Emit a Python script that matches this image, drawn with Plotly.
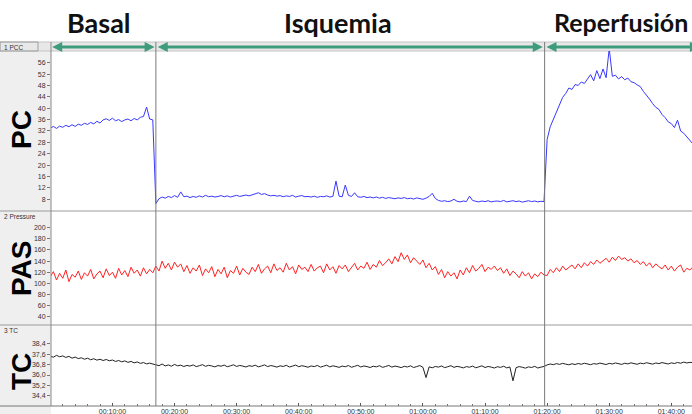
import numpy as np
import plotly.graph_objects as go

# ---------------- data (read from the recording) ----------------
STEP_MIN = 0.5          # sampling step of the hand-read series (minutes)
BASAL_END = 17.0        # end of basal period (min)
REPERF_START = 79.6     # start of reperfusion (min)

PHASES = ["Basal", "Isquemia", "Reperfusión"]
CHANNEL_LABELS = ["PC", "PAS", "TC"]
CHANNEL_NAMES = ["1 PCC", "2 Pressure", "3 TC"]

# PC (blue) — basal 0..16.5, ischemia 17..79.5, reperfusion 80..103.5
pc_basal = [33.0, 33.6, 32.9, 33.7, 33.3, 34.0, 33.5, 34.2, 33.6, 34.4,
            34.0, 34.7, 34.3, 35.0, 34.5, 35.4, 34.8, 35.9, 36.3, 35.7,
            36.5, 35.6, 36.0, 35.3, 35.9, 36.2, 35.6, 36.4, 35.9, 36.8,
            37.1, 40.4, 36.2, 35.9]
pc_isq = [6.5, 8.2, 8.8, 8.4, 9.0, 8.6, 9.3, 8.7, 10.6, 8.9,
          9.1, 8.6, 9.0, 8.7, 9.2, 8.8, 9.4, 8.9, 9.1, 8.8,
          9.0, 9.3, 8.9, 9.2, 8.8, 9.1, 9.4, 9.0, 9.3, 9.5,
          9.2, 9.6, 9.8, 10.3, 9.7, 10.0, 9.5, 9.2, 9.4, 9.1,
          9.3, 8.9, 9.2, 9.0, 9.4, 8.8, 9.1, 9.3, 8.9, 9.0,
          8.8, 9.1, 8.7, 9.0, 8.9, 9.2, 8.8, 9.0, 14.4, 9.1,
          8.9, 13.0, 9.4, 9.0, 10.3, 8.9, 8.7, 9.0, 8.6, 8.8,
          8.5, 8.8, 8.4, 8.7, 8.3, 8.6, 8.4, 8.2, 8.5, 8.3,
          8.6, 8.2, 8.4, 8.1, 8.5, 8.3, 8.0, 8.4, 9.0, 10.1,
          8.3, 7.6, 7.3, 7.5, 7.2, 7.4, 8.0, 7.3, 7.1, 7.4,
          7.2, 9.1, 7.6, 7.3, 7.1, 7.4, 7.2, 7.5, 7.1, 7.3,
          7.4, 7.2, 7.6, 7.1, 7.3, 7.5, 7.2, 7.4, 7.0, 7.3,
          7.5, 7.2, 7.4, 7.1, 7.3, 7.2]
pc_rep = [29.0, 33.5, 36.0, 38.6, 41.0, 43.8, 45.2, 47.1, 46.6, 48.3,
          48.0, 49.2, 48.7, 50.1, 51.8, 49.6, 53.2, 50.4, 53.8, 50.7,
          61.0, 51.2, 51.6, 50.3, 51.1, 50.0, 50.6, 49.3, 49.0, 48.2,
          47.6, 45.9, 44.7, 43.2, 41.6, 40.3, 39.6, 37.8, 36.7, 35.2,
          34.6, 33.2, 35.8, 32.0, 31.2, 29.8, 28.7, 27.4]

# PAS (red)
pas_basal = [112, 121, 106, 118, 109, 124, 103, 116, 111, 122,
             107, 119, 113, 125, 108, 117, 122, 110, 126, 114,
             120, 109, 127, 115, 123, 112, 129, 118, 124, 113,
             128, 117, 125, 119]
pas_isq = [131, 122, 140, 127, 136, 124, 138, 129, 135, 121,
           132, 118, 128, 122, 133, 114, 126, 119, 130, 112,
           125, 117, 129, 110, 123, 118, 131, 115, 127, 120,
           116, 129, 121, 134, 118, 126, 131, 119, 135, 123,
           128, 120, 136, 124, 130, 117, 133, 125, 129, 121,
           134, 122, 128, 131, 119, 135, 124, 130, 118, 132,
           126, 133, 121, 129, 136, 124, 131, 127, 138, 125,
           134, 129, 141, 132, 137, 144, 135, 148, 139, 155,
           143, 151, 137, 146, 140, 134, 142, 128, 136, 124,
           130, 116, 125, 110, 121, 113, 119, 108, 124, 115,
           128, 119, 132, 122, 127, 134, 121, 129, 125, 131,
           123, 128, 118, 126, 114, 122, 117, 110, 121, 113,
           119, 108, 117, 112, 120, 115]
pas_rep = [114, 125, 119, 128, 121, 131, 124, 129, 133, 126,
           135, 128, 137, 131, 139, 134, 142, 136, 140, 145,
           138, 147, 141, 149, 143, 146, 140, 144, 137, 141,
           134, 139, 131, 137, 128, 135, 130, 126, 133, 124,
           131, 122, 129, 133, 120, 127, 124, 130]

# TC (black)
tc_basal = [37.45, 37.38, 37.52, 37.41, 37.48, 37.36, 37.44, 37.30, 37.39, 37.27,
            37.33, 37.22, 37.30, 37.18, 37.26, 37.15, 37.22, 37.12, 37.20, 37.10,
            37.16, 37.05, 37.12, 37.02, 37.09, 36.98, 37.05, 36.94, 37.01, 36.90,
            36.96, 36.86, 36.92, 36.84]
tc_isq = [36.80, 36.72, 36.85, 36.70, 36.78, 36.68, 36.82, 36.71, 36.76, 36.66,
          36.74, 36.69, 36.78, 36.65, 36.72, 36.80, 36.67, 36.75, 36.70, 36.63,
          36.73, 36.68, 36.77, 36.64, 36.71, 36.79, 36.66, 36.74, 36.69, 36.62,
          36.72, 36.67, 36.76, 36.63, 36.70, 36.78, 36.65, 36.73, 36.68, 36.61,
          36.71, 36.66, 36.75, 36.62, 36.69, 36.77, 36.64, 36.72, 36.67, 36.60,
          36.70, 36.65, 36.74, 36.61, 36.68, 36.76, 36.63, 36.71, 36.66, 36.59,
          36.69, 36.64, 36.73, 36.60, 36.67, 36.75, 36.62, 36.70, 36.65, 36.58,
          36.68, 36.63, 36.72, 36.59, 36.66, 36.74, 36.61, 36.69, 36.64, 36.57,
          36.67, 36.62, 36.71, 36.58, 36.65, 36.73, 36.60, 35.80, 36.63, 36.56,
          36.66, 36.61, 36.70, 36.57, 36.64, 36.72, 36.59, 36.67, 36.62, 36.55,
          36.65, 36.60, 36.69, 36.56, 36.63, 36.71, 36.58, 36.66, 36.61, 36.54,
          36.64, 36.59, 36.68, 36.55, 36.62, 35.55, 36.57, 36.65, 36.60, 36.53,
          36.63, 36.58, 36.67, 36.54, 36.61, 36.66]
tc_rep = [36.78, 36.85, 36.80, 36.88, 36.82, 36.90, 36.84, 36.79, 36.87, 36.81,
          36.89, 36.83, 36.91, 36.85, 36.80, 36.88, 36.84, 36.92, 36.86, 36.81,
          36.90, 36.85, 36.93, 36.87, 36.82, 36.91, 36.86, 36.94, 36.88, 36.83,
          36.92, 36.87, 36.95, 36.89, 36.84, 36.93, 36.88, 36.96, 36.90, 36.85,
          36.94, 36.89, 36.97, 36.91, 37.00, 36.93, 36.98, 36.95]

PC_TICKS = [8, 12, 16, 20, 24, 28, 32, 36, 40, 44, 48, 52, 56]
PAS_TICKS = [40, 60, 80, 100, 120, 140, 160, 180, 200]
TC_TICKS = [34.4, 35.2, 36.0, 36.8, 37.6, 38.4]
X_TICKS_MIN = [10, 20, 30, 40, 50, 60, 70, 80, 90, 100]

PC_RANGE = [3.89, 60.1]
PAS_RANGE = [25.1, 230.0]
TC_RANGE = [33.6, 39.87]
T_RANGE = [0.11, 103.33]

# ---------------- assemble ----------------
pc = pc_basal + pc_isq + pc_rep
pas = pas_basal + pas_isq + pas_rep
tc = tc_basal + tc_isq + tc_rep
time = np.arange(len(pc)) * STEP_MIN

def hms(m):
    s = int(round(m * 60))
    return f"{s // 3600:02d}:{(s % 3600) // 60:02d}:{s % 60:02d}"

W, H = 692, 414
ML, MR, MT, MB = 51, 0, 51, 8
PW, PH = W - ML - MR, H - MT - MB

def xp(px):
    return (px - ML) / PW

def yp(py):
    return (H - MB - py) / PH

def tx(t):
    return (t - T_RANGE[0]) / (T_RANGE[1] - T_RANGE[0])

SEP1, SEP2 = 211, 325
D1 = [yp(SEP1), 1.0]
D2 = [yp(SEP2), yp(SEP1)]
D3 = [0.0, yp(SEP2)]

fig = go.Figure()
fig.add_trace(go.Scatter(x=time, y=pc, mode="lines", line=dict(color="#3838ff", width=1),
                         xaxis="x", yaxis="y", hoverinfo="skip", showlegend=False))
fig.add_trace(go.Scatter(x=time, y=pas, mode="lines", line=dict(color="#ff2222", width=1),
                         xaxis="x", yaxis="y2", hoverinfo="skip", showlegend=False))
fig.add_trace(go.Scatter(x=time, y=tc, mode="lines", line=dict(color="#222222", width=1),
                         xaxis="x", yaxis="y3", hoverinfo="skip", showlegend=False))

tickfont = dict(family="Liberation Sans, Arial", size=7, color="#333333")
yax_common = dict(anchor="x", ticks="outside", ticklen=3, tickcolor="#777777",
                  showgrid=False, zeroline=False, showline=False, tickfont=tickfont,
                  fixedrange=True)

shapes = []
GRAY_LINE = "#9a9a9a"
# left gray panel
shapes.append(dict(type="rect", xref="paper", yref="paper", x0=xp(0), x1=xp(ML),
                   y0=yp(H), y1=yp(42), fillcolor="#efefef", line=dict(width=0), layer="below"))
# top strip
shapes.append(dict(type="rect", xref="paper", yref="paper", x0=xp(0), x1=xp(W),
                   y0=yp(51), y1=yp(42), fillcolor="#e8e8e8",
                   line=dict(color="#c4c4c4", width=1), layer="below"))
shapes.append(dict(type="rect", xref="paper", yref="paper", x0=xp(0), x1=xp(38),
                   y0=yp(51), y1=yp(42), fillcolor="rgba(0,0,0,0)",
                   line=dict(color="#a0a0a0", width=1)))
# separators and borders
for sy in (SEP1, SEP2):
    shapes.append(dict(type="line", xref="paper", yref="paper", x0=xp(0), x1=1,
                       y0=yp(sy), y1=yp(sy), line=dict(color=GRAY_LINE, width=1)))
shapes.append(dict(type="line", xref="paper", yref="paper", x0=xp(0), x1=1,
                   y0=0, y1=0, line=dict(color="#777777", width=1)))
shapes.append(dict(type="line", xref="paper", yref="paper", x0=0, x1=0,
                   y0=0, y1=yp(42), line=dict(color="#888888", width=1)))
# event lines
for te in (BASAL_END, REPERF_START):
    shapes.append(dict(type="line", xref="paper", yref="paper", x0=tx(te), x1=tx(te),
                       y0=0, y1=yp(42), line=dict(color="#7a7a7a", width=1)))

# green double arrows
ARROW_COLOR = "#3e9b7c"
AY = 47
def add_arrow(t0, t1):
    p0 = ML + tx(t0) * PW
    p1 = ML + tx(t1) * PW
    hl, hh = 10, 5
    shapes.append(dict(type="line", xref="paper", yref="paper", x0=xp(p0 + 6), x1=xp(p1 - 6),
                       y0=yp(AY), y1=yp(AY), line=dict(color=ARROW_COLOR, width=3)))
    for tip, base in ((p0, p0 + hl), (p1, p1 - hl)):
        path = (f"M {xp(tip)} {yp(AY)} L {xp(base)} {yp(AY - hh)} "
                f"L {xp(base)} {yp(AY + hh)} Z")
        shapes.append(dict(type="path", xref="paper", yref="paper", path=path,
                           fillcolor=ARROW_COLOR, line=dict(width=0)))

add_arrow(0.3, BASAL_END - 0.2)
add_arrow(BASAL_END + 0.3, REPERF_START - 0.3)
add_arrow(REPERF_START + 0.3, 104.6)

annotations = []
title_font = dict(family="Lato, Open Sans, sans-serif", size=27, color="#111111", weight=700)
annotations.append(dict(text=PHASES[0], xref="paper", yref="paper", x=xp(99), y=yp(22),
                        xanchor="center", yanchor="middle", showarrow=False, font=title_font))
annotations.append(dict(text=PHASES[1], xref="paper", yref="paper", x=xp(338), y=yp(22),
                        xanchor="center", yanchor="middle", showarrow=False, font=title_font))
annotations.append(dict(text=PHASES[2], xref="paper", yref="paper", x=xp(690), y=yp(22),
                        xanchor="right", yanchor="middle", showarrow=False,
                        font=dict(title_font, size=25)))

big_font = dict(family="Liberation Sans, Arial", size=28, color="#000000", weight=700)
for lab, cy in zip(CHANNEL_LABELS, (130, 268, 372)):
    annotations.append(dict(text=lab, xref="paper", yref="paper", x=xp(21), y=yp(cy),
                            xanchor="center", yanchor="middle", textangle=-90,
                            showarrow=False, font=big_font))
small_font = dict(family="Liberation Sans, Arial", size=6.5, color="#333333")
for name, cy in zip(CHANNEL_NAMES, (47, 216, 330)):
    annotations.append(dict(text=name, xref="paper", yref="paper", x=xp(2), y=yp(cy),
                            xanchor="left", yanchor="middle", showarrow=False, font=small_font))

fig.update_layout(
    width=W, height=H,
    margin=dict(l=ML, r=MR, t=MT, b=MB, pad=0),
    paper_bgcolor="white", plot_bgcolor="white",
    showlegend=False,
    xaxis=dict(domain=[0, 1], range=T_RANGE, anchor="y3",
               tickmode="array", tickvals=X_TICKS_MIN, ticktext=[hms(v) for v in X_TICKS_MIN],
               ticks="inside", ticklen=3, tickcolor="#555555",
               minor=dict(tickmode="linear", tick0=0, dtick=2, ticks="inside", ticklen=2,
                          tickcolor="#777777"),
               showline=False, showgrid=False, zeroline=False, tickfont=tickfont,
               fixedrange=True),
    yaxis=dict(domain=D1, range=PC_RANGE, tickmode="array", tickvals=PC_TICKS, **yax_common),
    yaxis2=dict(domain=D2, range=PAS_RANGE, tickmode="array", tickvals=PAS_TICKS, **yax_common),
    yaxis3=dict(domain=D3, range=TC_RANGE, tickmode="array", tickvals=TC_TICKS,
                ticktext=[f"{v:.1f}".replace(".", ",") for v in TC_TICKS], **yax_common),
    shapes=shapes,
    annotations=annotations,
)

fig.write_html("out.html", include_plotlyjs=True, config={"displayModeBar": False})
